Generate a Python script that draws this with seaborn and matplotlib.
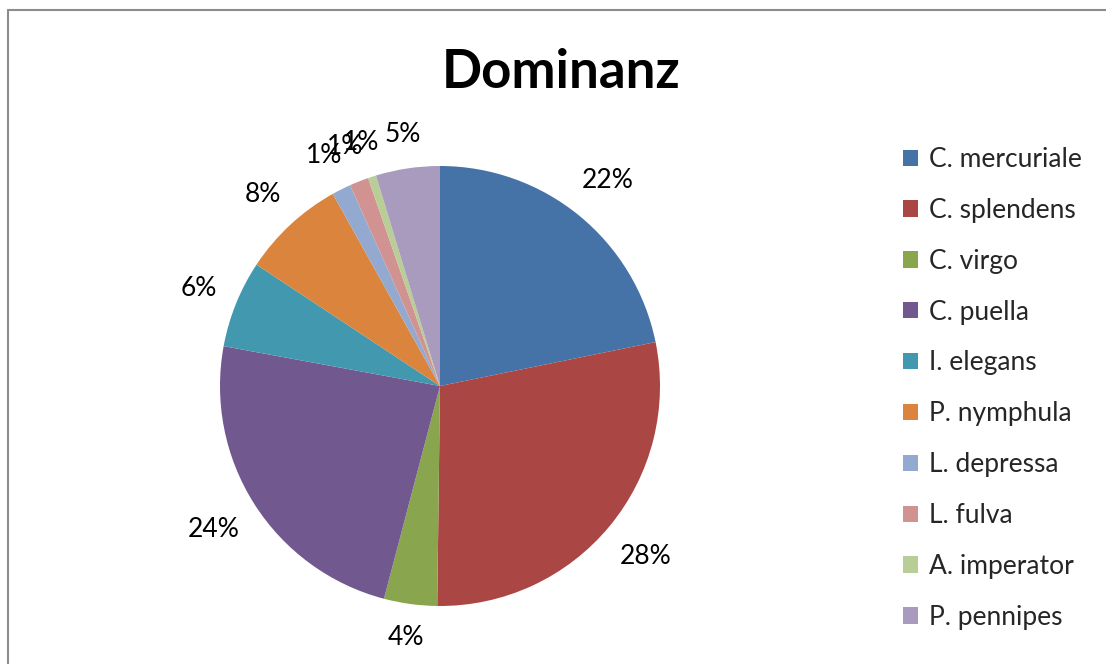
import matplotlib
matplotlib.use("Agg")
import matplotlib.pyplot as plt
import seaborn as sns
import numpy as np
from matplotlib.lines import Line2D
from matplotlib.patches import Patch

# Dominanz der Arten (Anteile in %)
arten = ["C. mercuriale", "C. splendens", "C. virgo", "C. puella", "I. elegans",
         "P. nymphula", "L. depressa", "L. fulva", "A. imperator", "P. pennipes"]
anteile = [21.8, 28.4, 3.9, 23.8, 6.4, 7.6, 1.4, 1.4, 0.6, 4.7]
farben = ["#4572A7", "#AA4643", "#89A54E", "#71588F", "#4198AF",
          "#DB843D", "#93A9CF", "#D19392", "#B9CD96", "#A99BBD"]

sns.set_theme(style="white")
plt.rcParams["font.family"] = ["Lato", "DejaVu Sans"]

W, H = 1106, 664
fig = plt.figure(figsize=(W / 100, H / 100), dpi=100)

# Rahmen (nur links und oben sichtbar)
fig.lines.append(Line2D([8 / W, 8 / W], [0, 1 - 10 / H], transform=fig.transFigure,
                        color="#8c8c8c", linewidth=1.5))
fig.lines.append(Line2D([8 / W, 1], [1 - 10 / H, 1 - 10 / H], transform=fig.transFigure,
                        color="#8c8c8c", linewidth=1.5))

cx, cy, r = 440, 386, 220
ax = fig.add_axes([(cx - r) / W, (H - cy - r) / H, 2 * r / W, 2 * r / H])
wedges, _, autotexts = ax.pie(anteile, colors=farben, startangle=90, counterclock=False,
                              autopct="%1.0f%%", pctdistance=1.2, radius=1,
                              textprops={"fontsize": 19, "color": "black"},
                              wedgeprops={"linewidth": 0})
ax.set_xlim(-1, 1)
ax.set_ylim(-1, 1)
ax.set_aspect("equal")
ax.axis("off")

# Beschriftungen wie in Excel: feste Lücke zwischen Kreisrand und Textbox
fig.canvas.draw()
renderer = fig.canvas.get_renderer()
gap = 19
for w, t in zip(wedges, autotexts):
    ang = np.deg2rad((w.theta1 + w.theta2) / 2)
    bb = t.get_window_extent(renderer)
    half = abs(np.cos(ang)) * bb.width / 2 + abs(np.sin(ang)) * bb.height / 2
    d = (r + gap + half) / r
    t.set_position((d * np.cos(ang), d * np.sin(ang)))

fig.text(561 / W, 1 - 72 / H, "Dominanz", ha="center", va="center",
         fontsize=38, fontweight="bold", color="black")

handles = [Patch(facecolor=c, edgecolor="none") for c in farben]
fig.legend(handles, arten, loc="upper left", bbox_to_anchor=(903 / W, 1 - 147 / H),
           frameon=False, fontsize=19, handlelength=0.57, handleheight=0.57,
           handletextpad=0.4, labelspacing=0.98, borderpad=0, borderaxespad=0)

fig.savefig("out.png", dpi=100)
